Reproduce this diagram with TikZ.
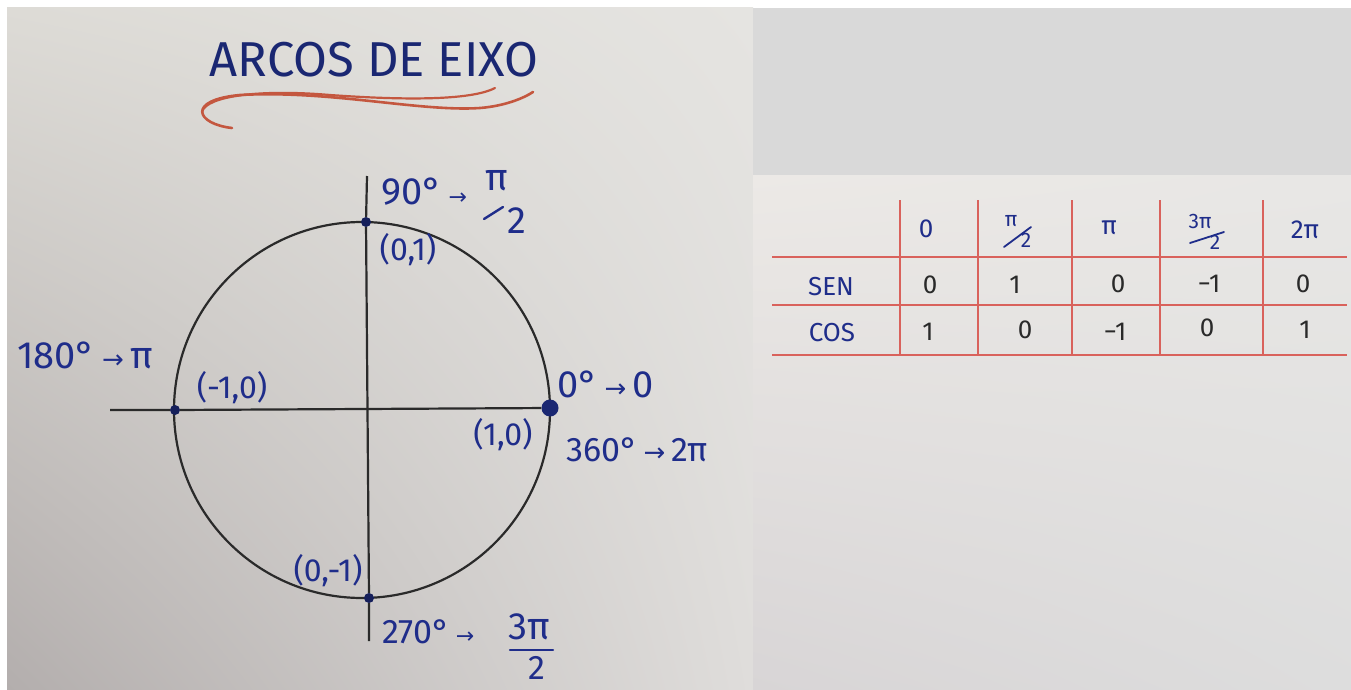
\documentclass[tikz,border=0pt]{standalone}
\usepackage{fontspec}
\usetikzlibrary{shadings}
\setmainfont{Fira Sans}
\newfontfamily\arrowfont{DejaVu Sans}
\definecolor{ink}{HTML}{1F2D8A}
\definecolor{navy}{HTML}{1A2772}
\definecolor{pencil}{HTML}{2A2A2A}
\definecolor{redline}{HTML}{D9625C}
\definecolor{swirl}{HTML}{C4573F}
\definecolor{topgray}{HTML}{D9D9D9}
\definecolor{lpUL}{HTML}{DDDBD6}
\definecolor{lpUR}{HTML}{E5E4E1}
\definecolor{lpLL}{HTML}{B3AEAD}
\definecolor{lpLR}{HTML}{DFDDDB}
\definecolor{rpUL}{HTML}{ECE9E6}
\definecolor{rpUR}{HTML}{E8E7E5}
\definecolor{rpLL}{HTML}{D8D5D6}
\definecolor{rpLR}{HTML}{DDDDDD}
\newcommand{\myarr}[1][26]{{\arrowfont\fontsize{#1}{#1}\selectfont →}}
\begin{document}
\begin{tikzpicture}[x=1pt,y=-1pt,
  big/.style={text=ink,font=\fontsize{38}{40}\selectfont,inner sep=0pt},
  coord/.style={text=ink,font=\fontsize{32}{34}\selectfont,inner sep=0pt},
  head/.style={text=ink,font=\fontsize{26}{28}\selectfont,inner sep=0pt},
  small/.style={text=ink,font=\fontsize{21}{22}\selectfont,inner sep=0pt},
  val/.style={text=pencil,font=\fontsize{26}{28}\selectfont,inner sep=0pt},
  dot/.style={circle,fill=navy!80!black,inner sep=0pt,minimum size=10pt},
  bigdot/.style={circle,fill=navy,inner sep=0pt,minimum size=17pt},
  axisline/.style={draw=pencil,line width=2.2pt},
  grid/.style={draw=redline,line width=2pt},
  fracbar/.style={draw=ink,line width=2.4pt,line cap=round}]
\useasboundingbox (0,0) rectangle (1351,690);
\fill[white] (0,0) rectangle (1351,690);
% backgrounds
\shade[upper left=lpUL,upper right=lpUR,lower left=lpLL,lower right=lpLR]
  (7,8) rectangle (753,690);
\fill[topgray] (753,8) rectangle (1351,175);
\shade[upper left=rpUL,upper right=rpUR,lower left=rpLL,lower right=rpLR]
  (753,175) rectangle (1351,690);

% title
\node[text=navy,font=\fontsize{49}{50}\selectfont,inner sep=0pt] (title) at (374,60) {ARCOS DE EIXO};
\draw[swirl,line width=2.6pt,line cap=round]
  (232,128) .. controls (196,124) and (186,100) .. (240,95)
            .. controls (330,90) and (420,112) .. (480,108)
            .. controls (505,106) and (524,98) .. (533,92);
\draw[swirl,line width=2.2pt,line cap=round]
  (202,112) .. controls (206,96) and (260,89) .. (330,95)
            .. controls (400,100) and (470,101) .. (495,88);

% circle and axes
\draw[axisline] (362,410) circle[radius=188];
\node[dot] (p90) at (366,222) {};
\node[dot] (p180) at (175,410) {};
\node[bigdot] (p0) at (550,408) {};
\node[dot] (p270) at (369,598) {};
\coordinate (vtop) at (367,176);
\coordinate (vbot) at (369,641);
\coordinate (hleft) at (110,410);
\draw[axisline] (vtop) -- (p90) -- (p270) -- (vbot);
\draw[axisline] (hleft) -- (p180) -- (p0);

% labels
\node[big,anchor=west] (l90) at (381,192) {90°\,\myarr[22]};
\node[big] (n90) at (497,181) {π};
\node[big] (d90) at (517,221) {2};
\draw[fracbar] (484,219) -- (503,207);
\node[coord] (c01) at (408,250) {(0,1)};

\node[big,anchor=west] (l180) at (17,355) {180°\,\myarr\,π};
\node[coord] (cm10) at (232,388) {(-1,0)};

\node[big,anchor=west] (l0) at (557,384) {0°\,\myarr\,0};
\node[coord] (c10) at (503,435) {(1,0)};
\node[big,anchor=west,font=\fontsize{34}{36}\selectfont] (l360) at (566,450) {360°\,\myarr\,2π};

\node[coord] (c0m1) at (328,571) {(0,-1)};
\node[big,anchor=west,font=\fontsize{34}{36}\selectfont] (l270) at (382,632) {270°\,\myarr[22]};
\node[big] (n270) at (529,627) {3π};
\draw[fracbar] (510,650) -- (553,650);
\node[big,font=\fontsize{34}{36}\selectfont] (d270) at (537,668) {2};

% table
\foreach \x in {900,978,1072,1160,1263} \draw[grid] (\x,200) -- (\x,355);
\foreach \y in {257,305,355} \draw[grid] (772,\y) -- (1347,\y);
\node[head] (h0) at (926,229) {0};
\node[small] (h1n) at (1011,221) {π};
\node[small] (h1d) at (1026,240) {2};
\draw[fracbar,line width=1.8pt] (1004,247) -- (1031,227);
\node[head] (h2) at (1109,228) {π};
\node[small] (h3n) at (1200,221) {3π};
\node[small] (h3d) at (1215,242) {2};
\draw[fracbar,line width=1.8pt] (1190,243) -- (1224,232);
\node[head] (h4) at (1305,230) {2π};

\node[head] (sen) at (831,287) {SEN};
\node[head] (cos) at (832,333) {COS};
\node[val] (s0) at (930,285) {0};
\node[val] (s1) at (1015,285) {1};
\node[val] (s2) at (1118,284) {0};
\node[val] (s3) at (1209,284) {−1};
\node[val] (s4) at (1303,284) {0};
\node[val] (k0) at (928,332) {1};
\node[val] (k1) at (1025,330) {0};
\node[val] (k2) at (1115,332) {−1};
\node[val] (k3) at (1207,328) {0};
\node[val] (k4) at (1305,330) {1};
\end{tikzpicture}
\end{document}
